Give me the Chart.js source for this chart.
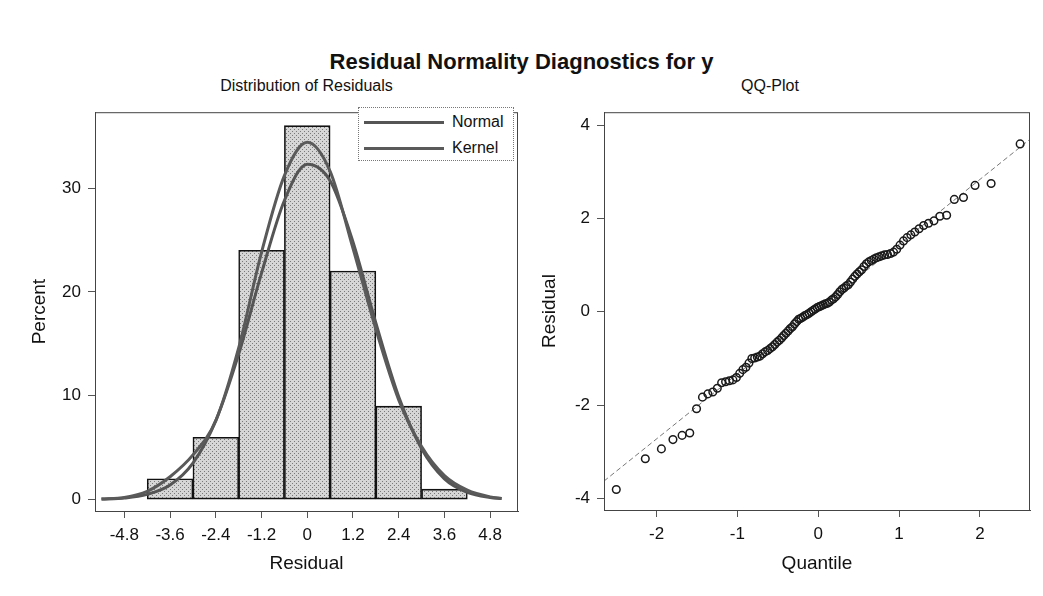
<!DOCTYPE html>
<html>
<head>
<meta charset="utf-8">
<script src="https://cdn.jsdelivr.net/npm/chart.js@4.4.1/dist/chart.umd.min.js"></script>
<style>
  body { margin: 0; background: #fff; font-family: "Liberation Sans", Arial, sans-serif; color: #111; }
  #page { position: relative; width: 1043px; height: 596px; overflow: hidden; }
  .title { position: absolute; left: 0; width: 1043px; top: 49px; text-align: center; font-weight: bold; font-size: 22px; }
  .sub { position: absolute; top: 77px; font-size: 16px; text-align: center; }
  canvas { position: absolute; }
  #legend { position: absolute; left: 358px; top: 107px; width: 154px; height: 52px; border: 1px dotted #777; background: #fff; }
  .lg-item { position: absolute; left: 5px; height: 20px; font-size: 16px; line-height: 20px; }
  .lg-line { position: absolute; left: 0; top: 9px; width: 80px; border-top: 3px solid #555; }
  .lg-text { position: absolute; left: 88px; top: 0; white-space: nowrap; }
</style>
</head>
<body>
<div id="page">
  <div class="title">Residual Normality Diagnostics for y</div>
  <div class="sub" style="left:95px;width:423px;">Distribution of Residuals</div>
  <div class="sub" style="left:670px;width:200px;">QQ-Plot</div>
  <canvas id="histChart" width="525" height="501" style="left:0;top:95px;width:525px;height:501px;"></canvas>
  <canvas id="qqChart" width="518" height="501" style="left:525px;top:95px;width:518px;height:501px;"></canvas>
  <div id="legend"></div>
</div>
<script>
// histogram bins (midpoints) and percent of residuals
const binMid = [-3.6, -2.4, -1.2, 0, 1.2, 2.4, 3.6];
const binPct = [2, 6, 24, 36, 22, 9, 1];

// fitted curves
const curveX = [-5.4, -4.8, -4.2, -3.6, -3.0, -2.4, -1.8, -1.2, -0.6, 0, 0.6, 1.2, 1.8, 2.4, 3.0, 3.6, 4.2, 4.8, 5.1];
const normalPct = [0.05, 0.15, 0.5, 1.4, 3.5, 7.6, 14.0, 21.8, 28.8, 32.3, 30.7, 24.8, 17.0, 9.9, 4.9, 2.0, 0.7, 0.2, 0.1];
const kernelPct = [0.05, 0.2, 0.8, 2.2, 4.3, 7.6, 14.6, 23.8, 31.2, 34.4, 31.6, 24.2, 16.4, 9.6, 5.1, 2.3, 0.9, 0.25, 0.1];

const histXTicks = [-4.8, -3.6, -2.4, -1.2, 0, 1.2, 2.4, 3.6, 4.8];
const histXLabels = ['-4.8', '-3.6', '-2.4', '-1.2', '0', '1.2', '2.4', '3.6', '4.8'];
const histYTicks = [0, 10, 20, 30];

// QQ plot: normal quantiles and sorted residuals
const qqQuantile = [-2.498, -2.139, -1.940, -1.797, -1.684, -1.589, -1.505, -1.432, -1.365, -1.304,
  -1.248, -1.195, -1.146, -1.099, -1.055, -1.012, -0.971, -0.932, -0.894, -0.857,
  -0.821, -0.786, -0.753, -0.720, -0.688, -0.657, -0.626, -0.596, -0.566, -0.537,
  -0.509, -0.481, -0.453, -0.426, -0.399, -0.372, -0.345, -0.319, -0.293, -0.267,
  -0.241, -0.215, -0.189, -0.164, -0.138, -0.113, -0.088, -0.063, -0.038, -0.013,
  0.013, 0.038, 0.063, 0.088, 0.113, 0.138, 0.164, 0.189, 0.215, 0.241,
  0.267, 0.293, 0.319, 0.345, 0.372, 0.399, 0.426, 0.453, 0.481, 0.509,
  0.537, 0.566, 0.596, 0.626, 0.657, 0.688, 0.720, 0.753, 0.786, 0.821,
  0.857, 0.894, 0.932, 0.971, 1.012, 1.055, 1.099, 1.146, 1.195, 1.248,
  1.304, 1.365, 1.432, 1.505, 1.589, 1.684, 1.797, 1.940, 2.139, 2.498];
const qqResidual = [-3.81, -3.15, -2.94, -2.74, -2.65, -2.60, -2.08, -1.83, -1.76, -1.72,
  -1.64, -1.52, -1.50, -1.48, -1.46, -1.41, -1.32, -1.24, -1.19, -1.10,
  -1.00, -0.99, -0.97, -0.95, -0.90, -0.86, -0.83, -0.79, -0.75, -0.70,
  -0.65, -0.61, -0.56, -0.51, -0.46, -0.41, -0.36, -0.32, -0.26, -0.21,
  -0.16, -0.14, -0.11, -0.08, -0.06, -0.03, 0.00, 0.03, 0.06, 0.09,
  0.11, 0.13, 0.15, 0.17, 0.18, 0.21, 0.25, 0.28, 0.32, 0.37,
  0.43, 0.48, 0.51, 0.55, 0.58, 0.64, 0.70, 0.76, 0.81, 0.86,
  0.90, 0.97, 1.03, 1.07, 1.10, 1.13, 1.16, 1.18, 1.20, 1.22,
  1.23, 1.25, 1.28, 1.34, 1.43, 1.52, 1.59, 1.65, 1.71, 1.78,
  1.85, 1.90, 1.95, 2.05, 2.07, 2.41, 2.45, 2.71, 2.75, 3.60];
const refLineX = [-2.65, 2.62];
const refLineY = [-3.63, 3.70];
const qqXTicks = [-2, -1, 0, 1, 2];
const qqYTicks = [-4, -2, 0, 2, 4];

const fontFamily = '"Liberation Sans", Arial, sans-serif';
Chart.defaults.font.family = fontFamily;
Chart.defaults.color = '#111';

// stippled gray fill like the printed bars
function stipple() {
  const c = document.createElement('canvas');
  c.width = 4; c.height = 4;
  const g = c.getContext('2d');
  g.fillStyle = '#d6d6d6';
  g.fillRect(0, 0, 4, 4);
  g.fillStyle = '#7a7a7a';
  g.fillRect(0, 0, 1, 1);
  g.fillRect(2, 2, 1, 1);
  return g.createPattern(c, 'repeat');
}

const frame = {
  id: 'frame',
  afterDatasetsDraw(chart) {
    const { ctx, chartArea: a } = chart;
    ctx.save();
    ctx.strokeStyle = '#444';
    ctx.lineWidth = 1;
    ctx.strokeRect(a.left + 0.5, a.top + 0.5, a.right - a.left - 1, a.bottom - a.top);
    ctx.restore();
  }
};

function axis(min, max, ticks, labels, title, titlePad, width, height) {
  return {
    type: 'linear',
    min: min,
    max: max,
    offset: false,
    afterBuildTicks: s => { s.ticks = ticks.map(v => ({ value: v })); },
    afterFit: s => {
      if (width) s.width = width;
      if (height) s.height = height;
    },
    grid: { display: true, offset: false, drawOnChartArea: false, drawTicks: true, tickLength: 7, color: '#555' },
    border: { display: true, color: '#444' },
    ticks: {
      font: { size: 17 },
      padding: 7,
      autoSkip: false,
      maxRotation: 0,
      callback: (v, i) => labels ? labels[i] : String(v)
    },
    title: { display: true, text: title, font: { size: 19 }, padding: titlePad }
  };
}

const histCtx = document.getElementById('histChart').getContext('2d');
const histChart = new Chart(histCtx, {
  type: 'bar',
  data: {
    datasets: [
      {
        type: 'bar',
        label: 'Percent',
        data: binMid.map((x, i) => ({ x: x, y: binPct[i] })),
        backgroundColor: stipple(),
        borderColor: '#111',
        borderWidth: 1.6,
        borderSkipped: false,
        categoryPercentage: 1,
        barPercentage: 1,
        order: 3
      },
      {
        type: 'line',
        label: 'Normal',
        data: curveX.map((x, i) => ({ x: x, y: normalPct[i] })),
        borderColor: '#555',
        backgroundColor: '#555',
        borderWidth: 3,
        pointRadius: 0,
        cubicInterpolationMode: 'monotone',
        order: 2
      },
      {
        type: 'line',
        label: 'Kernel',
        data: curveX.map((x, i) => ({ x: x, y: kernelPct[i] })),
        borderColor: '#5a5a5a',
        backgroundColor: '#5a5a5a',
        borderWidth: 3,
        pointRadius: 0,
        cubicInterpolationMode: 'monotone',
        order: 1
      }
    ]
  },
  options: {
    responsive: false,
    animation: false,
    layout: { padding: { top: 3, right: 7, left: 0, bottom: 0 } },
    plugins: { legend: { display: false }, tooltip: { enabled: false } },
    scales: {
      x: axis(-5.57, 5.53, histXTicks, histXLabels, 'Residual', { top: 0, bottom: 21 }, 0, 85),
      y: axis(-1.1, 37.3, histYTicks, null, 'Percent', { top: 28, bottom: 0 }, 95, 0)
    }
  },
  plugins: [frame]
});

// legend box built from the curve datasets
const legendEl = document.getElementById('legend');
histChart.data.datasets.filter(d => d.type === 'line').forEach((d, i) => {
  const item = document.createElement('div');
  item.className = 'lg-item';
  item.style.top = (4 + i * 26) + 'px';
  item.innerHTML = `<div class="lg-line" style="border-top-color:${d.borderColor}"></div><span class="lg-text">${d.label}</span>`;
  legendEl.appendChild(item);
});

const qqCtx = document.getElementById('qqChart').getContext('2d');
new Chart(qqCtx, {
  type: 'scatter',
  data: {
    datasets: [
      {
        type: 'scatter',
        label: 'Residual',
        data: qqQuantile.map((q, i) => ({ x: q, y: qqResidual[i] })),
        pointStyle: 'circle',
        pointRadius: 3.8,
        pointBorderWidth: 1.5,
        borderColor: '#1a1a1a',
        backgroundColor: 'rgba(255,255,255,0)',
        order: 1
      },
      {
        type: 'line',
        label: 'Reference',
        data: refLineX.map((x, i) => ({ x: x, y: refLineY[i] })),
        borderColor: '#777',
        borderWidth: 1,
        borderDash: [5, 3],
        pointRadius: 0,
        order: 2
      }
    ]
  },
  options: {
    responsive: false,
    animation: false,
    layout: { padding: { top: 3, right: 13, left: 0, bottom: 0 } },
    plugins: { legend: { display: false }, tooltip: { enabled: false } },
    scales: {
      x: axis(-2.65, 2.62, qqXTicks, null, 'Quantile', { top: 0, bottom: 21 }, 0, 86),
      y: axis(-4.25, 4.28, qqYTicks, null, 'Residual', { top: 13, bottom: 0 }, 79, 0)
    }
  },
  plugins: [frame]
});
</script>
</body>
</html>
